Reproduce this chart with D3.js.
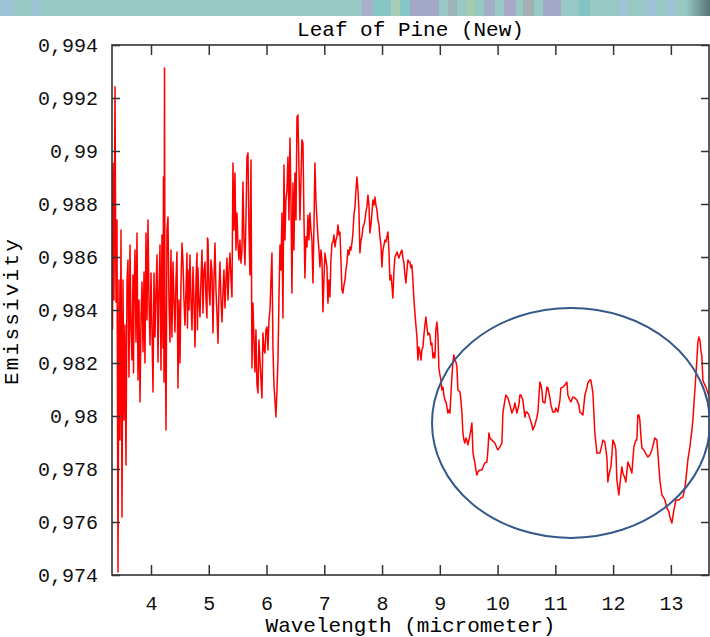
<!DOCTYPE html>
<html>
<head>
<meta charset="utf-8">
<script src="https://cdn.jsdelivr.net/npm/d3@7"></script>
<style>
  body { margin: 0; background: #fff; }
  svg { display: block; }
  .tick line { stroke: #333; stroke-width: 1.5; }
  .tick text { font-family: "Liberation Mono", "DejaVu Sans Mono", monospace; font-size: 20px; fill: #111; }
</style>
</head>
<body>
<div class="center"></div>
<script>
// axis values
var xTicks = [4, 5, 6, 7, 8, 9, 10, 11, 12, 13];
var yTicks = [0.974, 0.976, 0.978, 0.98, 0.982, 0.984, 0.986, 0.988, 0.99, 0.992, 0.994];
var xDomain = [3.325, 13.66];
var yDomain = [0.974, 0.994];

// spectrum: [wavelength, emissivity]
var spectrumNoisy = [
  [3.334,0.98325],[3.342,0.98955],[3.359,0.98438],[3.377,0.99242],[3.394,0.98430],[3.411,0.98740],[3.429,0.97411],[3.446,0.98513],
  [3.463,0.97909],[3.481,0.98702],[3.498,0.97619],[3.515,0.98513],[3.533,0.97985],[3.550,0.98343],[3.567,0.97815],[3.585,0.98513],
  [3.602,0.98589],[3.619,0.98147],[3.637,0.98645],[3.654,0.98325],[3.671,0.98211],[3.688,0.98532],[3.697,0.98162],[3.706,0.98438],
  [3.723,0.98626],[3.740,0.98279],[3.758,0.98691],[3.775,0.98136],[3.792,0.98438],[3.810,0.98053],[3.827,0.98362],[3.844,0.98506],
  [3.862,0.98242],[3.879,0.98543],[3.896,0.98200],[3.913,0.98691],[3.931,0.98362],[3.948,0.98740],[3.965,0.98438],[3.983,0.98268],
  [4.000,0.98540],[4.017,0.98325],[4.035,0.98091],[4.052,0.98540],[4.069,0.98298],[4.087,0.98475],[4.104,0.98608],[4.121,0.98204],
  [4.138,0.98475],[4.156,0.98645],[4.173,0.98174],[4.190,0.98683],[4.208,0.98257],[4.216,0.98902],[4.225,0.98128],[4.234,0.99313],
  [4.242,0.98438],[4.260,0.97947],[4.277,0.98702],[4.294,0.98751],[4.311,0.98438],[4.329,0.98279],[4.346,0.98626],[4.363,0.98298],
  [4.381,0.98581],[4.398,0.98438],[4.415,0.98317],[4.433,0.98513],[4.450,0.98619],[4.467,0.98106],[4.485,0.98438],[4.502,0.98200],
  [4.519,0.98494],[4.537,0.98653],[4.554,0.98581],[4.571,0.98438],[4.588,0.98343],[4.606,0.98475],[4.623,0.98615],[4.632,0.98332],
  [4.640,0.98551],[4.658,0.98400],[4.675,0.98608],[4.692,0.98438],[4.710,0.98325],[4.727,0.98562],[4.744,0.98438],[4.762,0.98260],
  [4.779,0.98513],[4.796,0.98615],[4.805,0.98325],[4.813,0.98559],[4.831,0.98438],[4.848,0.98374],[4.865,0.98513],[4.883,0.98626],
  [4.900,0.98389],[4.917,0.98551],[4.935,0.98581],[4.952,0.98438],[4.969,0.98370],[4.978,0.98672],[4.987,0.98664],[5.004,0.98475],
  [5.021,0.98419],[5.038,0.98589],[5.056,0.98543],[5.073,0.98313],[5.090,0.98513],[5.108,0.98653],[5.125,0.98475],[5.142,0.98389],
  [5.160,0.98275],[5.177,0.98475],[5.194,0.98581],[5.212,0.98438],[5.229,0.98355],[5.246,0.98464],[5.263,0.98551],[5.281,0.98408],
  [5.298,0.98513],[5.315,0.98596],[5.333,0.98438],[5.350,0.98551],[5.367,0.98615],[5.385,0.98513],[5.402,0.98449]
];

var spectrumDip = [
  [5.419,0.98955],[5.437,0.98702],[5.454,0.98917],[5.471,0.98626],[5.488,0.98766],[5.506,0.98645],[5.523,0.98589],[5.540,0.98664],
  [5.558,0.98577],[5.575,0.98626],[5.592,0.98883],[5.610,0.98664],[5.627,0.98570],[5.644,0.98740],[5.661,0.98977],[5.679,0.98993],
  [5.696,0.98702],[5.713,0.98532],[5.731,0.98966],[5.748,0.98181],[5.765,0.98426],[5.783,0.98287],[5.800,0.98166],[5.817,0.98325],
  [5.835,0.98117],[5.852,0.98087],[5.869,0.98287],[5.886,0.98211],[5.904,0.98136],[5.921,0.98068],[5.938,0.98313],[5.956,0.98249],
  [5.973,0.98238],[5.990,0.98325],[6.008,0.98336],[6.025,0.98249],[6.042,0.98362],[6.060,0.98400],[6.077,0.98513],[6.094,0.98615],
  [6.111,0.98260],[6.129,0.98117],[6.146,0.98060],[6.163,0.97996],[6.181,0.98098],[6.198,0.98211],[6.215,0.98438]
];

var spectrumPeak = [
  [6.233,0.98645],[6.250,0.98551],[6.267,0.98766],[6.284,0.98370],[6.302,0.98947],[6.319,0.98664],[6.336,0.98815],[6.354,0.98853],
  [6.371,0.98977],[6.388,0.98740],[6.406,0.99049],[6.423,0.98815],[6.440,0.98464],[6.458,0.98879],[6.475,0.98626],[6.492,0.98917],
  [6.510,0.98740],[6.527,0.99128],[6.544,0.99136],[6.562,0.98928],[6.579,0.98740],[6.596,0.98891],[6.613,0.99042],[6.631,0.99030],
  [6.648,0.98751],[6.665,0.98521],[6.683,0.98676],[6.700,0.98638],[6.717,0.98758],[6.735,0.98664],[6.752,0.98766],[6.769,0.98702],
  [6.786,0.98664],[6.804,0.98502],[6.821,0.98713],[6.838,0.98955],[6.856,0.98815],[6.873,0.98740],[6.890,0.98676],[6.908,0.98626],
  [6.925,0.98562],[6.942,0.98626],[6.960,0.98589],[6.977,0.98393],[6.994,0.98513],[7.011,0.98615],[7.029,0.98589],[7.046,0.98562],
  [7.063,0.98426],[7.081,0.98513],[7.098,0.98449],[7.115,0.98589],[7.133,0.98653],[7.150,0.98657],[7.167,0.98683],[7.185,0.98638],
  [7.202,0.98664],[7.219,0.98676],[7.236,0.98721],[7.254,0.98683],[7.271,0.98694],[7.288,0.98589],[7.306,0.98475],[7.323,0.98464],
  [7.340,0.98494],[7.358,0.98513],[7.375,0.98551],[7.392,0.98577],[7.409,0.98626],[7.427,0.98608],[7.444,0.98638],[7.461,0.98626],
  [7.479,0.98653],[7.496,0.98691],[7.513,0.98758],[7.531,0.98789],[7.548,0.98853],[7.565,0.98902],[7.583,0.98853],[7.600,0.98777],
  [7.617,0.98615],[7.635,0.98664],[7.652,0.98676],[7.669,0.98713],[7.687,0.98721],[7.704,0.98740],[7.721,0.98770],[7.738,0.98789],
  [7.756,0.98834],[7.773,0.98796],[7.790,0.98691],[7.808,0.98721],[7.825,0.98766],[7.842,0.98815],[7.860,0.98796],[7.877,0.98826],
  [7.894,0.98796],[7.912,0.98777],[7.929,0.98740],[7.946,0.98721],[7.963,0.98676],[7.981,0.98645],[7.998,0.98562],[8.015,0.98626],
  [8.033,0.98645],[8.050,0.98664],[8.067,0.98657],[8.085,0.98676],[8.102,0.98694],[8.119,0.98626],[8.136,0.98513],[8.154,0.98532],
  [8.171,0.98494],[8.188,0.98445],[8.206,0.98551],[8.223,0.98600],[8.240,0.98608],[8.258,0.98619],[8.275,0.98608],[8.292,0.98596],
  [8.309,0.98608],[8.327,0.98619],[8.344,0.98626],[8.361,0.98596],[8.379,0.98577],[8.396,0.98532],[8.413,0.98502],[8.431,0.98551],
  [8.448,0.98589],[8.465,0.98581],[8.483,0.98581],[8.500,0.98559],[8.517,0.98570],[8.534,0.98513],[8.552,0.98438],[8.569,0.98389],
  [8.586,0.98343],[8.604,0.98298],[8.621,0.98211],[8.638,0.98260],[8.656,0.98242],[8.673,0.98211],[8.690,0.98249],[8.708,0.98260],
  [8.725,0.98306],[8.742,0.98343],[8.759,0.98374],[8.777,0.98336],[8.794,0.98306],[8.811,0.98313],[8.829,0.98306],[8.846,0.98268],
  [8.863,0.98275],[8.881,0.98219],[8.898,0.98238],[8.915,0.98219],[8.932,0.98325],[8.950,0.98355],[8.967,0.98306],[8.984,0.98181]
];

var spectrumTail = [
  [9.002,0.98155],[9.019,0.98136],[9.036,0.98098],[9.054,0.98109],[9.071,0.98079],[9.088,0.98060],[9.106,0.98053],[9.123,0.98034],
  [9.140,0.98011],[9.157,0.98023],[9.175,0.98011],[9.192,0.98079],[9.209,0.98147],[9.227,0.98204],[9.244,0.98230],[9.261,0.98211],
  [9.279,0.98204],[9.296,0.98185],[9.313,0.98098],[9.348,0.98091],[9.365,0.98060],[9.383,0.98011],[9.400,0.97936],[9.417,0.97909],
  [9.434,0.97898],[9.452,0.97917],[9.469,0.97909],[9.486,0.97891],[9.504,0.97909],[9.521,0.97928],[9.538,0.97947],[9.556,0.97974],
  [9.573,0.97864],[9.590,0.97842],[9.607,0.97823],[9.625,0.97796],[9.642,0.97777],[9.659,0.97789],[9.694,0.97796],[9.729,0.97796],
  [9.763,0.97815],[9.781,0.97823],[9.815,0.97826],[9.833,0.97872],[9.850,0.97936],[9.867,0.97917],[9.902,0.97909],[9.936,0.97902],
  [9.954,0.97898],[9.988,0.97879],[10.006,0.97872],[10.040,0.97883],[10.075,0.97898],[10.092,0.98011],[10.127,0.98060],[10.144,0.98079],
  [10.179,0.98068],[10.213,0.98042],[10.248,0.98011],[10.283,0.98030],[10.300,0.98049],[10.334,0.98011],[10.369,0.98042],[10.386,0.98079],
  [10.404,0.98079],[10.438,0.98060],[10.473,0.97996],[10.490,0.98015],[10.508,0.98015],[10.542,0.98004],[10.559,0.97992],[10.594,0.97966],
  [10.611,0.97947],[10.646,0.97966],[10.681,0.97996],[10.698,0.98015],[10.732,0.98128],[10.750,0.98117],[10.767,0.98098],[10.784,0.98053],
  [10.819,0.98049],[10.854,0.98109],[10.871,0.98106],[10.906,0.98068],[10.923,0.98042],[10.957,0.98015],[10.992,0.98015],[11.009,0.98030],
  [11.044,0.98015],[11.079,0.98060],[11.096,0.98106],[11.130,0.98109],[11.165,0.98117],[11.200,0.98128],[11.217,0.98079],[11.252,0.98060],
  [11.269,0.98053],[11.304,0.98072],[11.338,0.98068],[11.373,0.98060],[11.407,0.98042],[11.425,0.98015],[11.459,0.98008],[11.477,0.98004],
  [11.511,0.98079],[11.546,0.98106],[11.563,0.98125],[11.598,0.98136],[11.615,0.98136],[11.650,0.98087],[11.684,0.97936],[11.719,0.97860],
  [11.754,0.97860],[11.771,0.97860],[11.806,0.97891],[11.823,0.97909],[11.857,0.97902],[11.892,0.97845],[11.909,0.97751],[11.927,0.97777],
  [11.961,0.97808],[11.979,0.97853],[11.996,0.97909],[12.031,0.97891],[12.048,0.97872],[12.065,0.97759],[12.099,0.97702],[12.117,0.97740],
  [12.151,0.97808],[12.169,0.97785],[12.203,0.97766],[12.221,0.97751],[12.255,0.97826],[12.290,0.97808],[12.325,0.97785],[12.359,0.97883],
  [12.394,0.97909],[12.411,0.97909],[12.428,0.98004],[12.446,0.98004],[12.463,0.97985],[12.480,0.97928],[12.498,0.97879],[12.532,0.97872],
  [12.550,0.97864],[12.602,0.97845],[12.636,0.97853],[12.671,0.97872],[12.706,0.97902],[12.723,0.97917],[12.758,0.97909],[12.775,0.97860],
  [12.809,0.97759],[12.844,0.97702],[12.879,0.97691],[12.896,0.97683],[12.931,0.97653],[12.965,0.97638],[12.983,0.97619],[13.017,0.97596],
  [13.052,0.97645],[13.087,0.97683],[13.104,0.97683],[13.139,0.97683],[13.173,0.97691],[13.208,0.97694],[13.243,0.97728],[13.277,0.97796],
  [13.294,0.97834],[13.329,0.97883],[13.364,0.97947],[13.381,0.97985],[13.398,0.98042],[13.416,0.98098],[13.433,0.98155],[13.450,0.98211],
  [13.467,0.98279],[13.485,0.98298],[13.502,0.98287],[13.519,0.98249],[13.537,0.98223],[13.554,0.98136],[13.571,0.98125],[13.606,0.98109],
  [13.640,0.98087],[13.675,0.98068]
];

// hand-drawn highlight ellipse, in data units: centre and radii
var highlightCenter = [11.27, 0.97974];
var highlightRadii = [2.405, 0.00434];

// slide banner along the top edge (decoration)
var bannerBlocks = [
  [0,14,"#9cc4d6"],[32,41,"#9cc4d6"],[362,373,"#a6b0c8"],[373,391,"#86c6c6"],[391,400,"#a9ccb4"],
  [400,410,"#86c6c6"],[410,439,"#a2a8c6"],[448,457,"#9cb4b4"],[466,475,"#a6ccb0"],[484,495,"#a0aec6"],
  [504,516,"#a6a8c6"],[523,534,"#a2b0b4"],[543,561,"#a2a8c8"],[579,590,"#80c4c4"],[620,627,"#a0c4d8"],
  [647,656,"#a0c0d8"],[667,674,"#a0c0d8"]
];

var W = 710, H = 637;
var margin = {top: 45, right: 1, bottom: 62, left: 112},
    width = W - margin.left - margin.right,
    height = H - margin.top - margin.bottom;

var x = d3.scaleLinear().domain(xDomain).range([0, width]);
var y = d3.scaleLinear().domain(yDomain).range([height, 0]);

var commaFmt = d3.formatLocale({decimal: ",", thousands: ".", grouping: [3], currency: ["", ""]}).format(".3~f");

var root = d3.select(".center").append("svg")
    .attr("width", W)
    .attr("height", H);

root.append("rect").attr("width", W).attr("height", H).attr("fill", "#fff");

// banner
var grad = root.append("defs").append("linearGradient").attr("id", "bannerFade");
grad.append("stop").attr("offset", "0%").attr("stop-color", "#97c8c3");
grad.append("stop").attr("offset", "100%").attr("stop-color", "#587474");
root.append("rect").attr("x", 0).attr("y", 0).attr("width", W).attr("height", 16).attr("fill", "#97c8c3");
root.selectAll("rect.block")
    .data(bannerBlocks)
    .enter().append("rect")
    .attr("class", "block")
    .attr("x", function(d) { return d[0]; })
    .attr("y", 0)
    .attr("width", function(d) { return d[1] - d[0]; })
    .attr("height", 16)
    .attr("fill", function(d) { return d[2]; });
root.append("rect").attr("x", 686).attr("y", 0).attr("width", 24).attr("height", 16).attr("fill", "url(#bannerFade)");

var svg = root.append("g")
    .attr("transform", "translate(" + margin.left + "," + margin.top + ")");

svg.append("clipPath").attr("id", "plotClip")
  .append("rect").attr("width", width).attr("height", height);

// the spectrum
var valueline = d3.line()
    .x(function(d) { return x(d[0]); })
    .y(function(d) { return y(d[1]); });

var spectrum = spectrumNoisy.concat(spectrumDip, spectrumPeak, spectrumTail);

svg.append("path")
    .datum(spectrum)
    .attr("clip-path", "url(#plotClip)")
    .attr("fill", "none")
    .attr("stroke", "#ff0000")
    .attr("stroke-width", 1.5)
    .attr("stroke-linejoin", "round")
    .attr("d", valueline);

// axes: gnuplot style, ticks inward and mirrored
svg.append("g")
    .attr("transform", "translate(0," + height + ")")
    .call(d3.axisBottom(x).tickValues(xTicks).tickSize(-10).tickPadding(21).tickFormat(d3.format("d")))
    .call(function(g) { g.select(".domain").remove(); });

svg.append("g")
    .call(d3.axisTop(x).tickValues(xTicks).tickSize(-10).tickFormat(""))
    .call(function(g) { g.select(".domain").remove(); });

svg.append("g")
    .call(d3.axisLeft(y).tickValues(yTicks).tickSize(-8).tickPadding(14).tickFormat(commaFmt))
    .call(function(g) { g.select(".domain").remove(); });

svg.append("g")
    .attr("transform", "translate(" + width + ",0)")
    .call(d3.axisRight(y).tickValues(yTicks).tickSize(-8).tickFormat(""))
    .call(function(g) { g.select(".domain").remove(); });

svg.append("rect")
    .attr("width", width)
    .attr("height", height)
    .attr("fill", "none")
    .attr("stroke", "#333")
    .attr("stroke-width", 1.6);

// highlight ellipse
svg.append("ellipse")
    .attr("cx", x(highlightCenter[0]))
    .attr("cy", y(highlightCenter[1]))
    .attr("rx", x(highlightCenter[0] + highlightRadii[0]) - x(highlightCenter[0]))
    .attr("ry", y(highlightCenter[1] - highlightRadii[1]) - y(highlightCenter[1]))
    .attr("fill", "none")
    .attr("stroke", "#34598a")
    .attr("stroke-width", 2);

// title
svg.append("text")
    .attr("x", width / 2)
    .attr("y", -9)
    .attr("text-anchor", "middle")
    .style("font-family", "'Liberation Mono', 'DejaVu Sans Mono', monospace")
    .style("font-size", "21px")
    .text("Leaf of Pine (New)");

// x axis label
svg.append("text")
    .attr("x", width / 2)
    .attr("y", height + 57)
    .attr("text-anchor", "middle")
    .style("font-family", "'Liberation Mono', 'DejaVu Sans Mono', monospace")
    .style("font-size", "21px")
    .text("Wavelength (micrometer)");

// y axis label
svg.append("text")
    .attr("transform", "rotate(-90)")
    .attr("x", -height / 2 - 1)
    .attr("y", 18 - margin.left)
    .attr("text-anchor", "middle")
    .style("font-family", "'Liberation Mono', 'DejaVu Sans Mono', monospace")
    .style("font-size", "21px")
    .style("letter-spacing", "2.2px")
    .text("Emissivity");
</script>
</body>
</html>
